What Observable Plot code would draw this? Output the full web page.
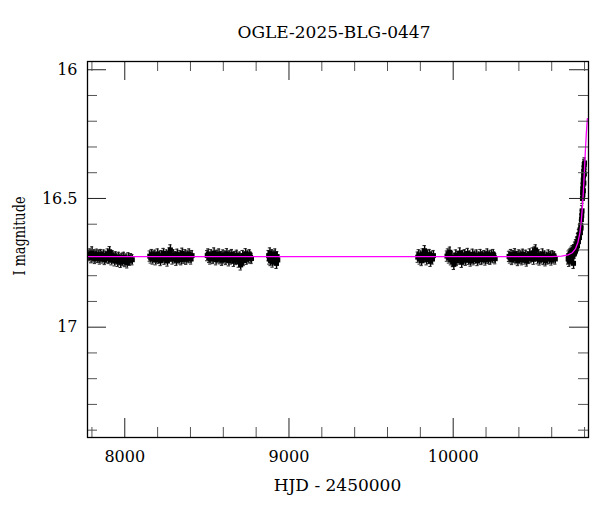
<!DOCTYPE html>
<html>
<head>
<meta charset="utf-8">
<script src="https://cdn.jsdelivr.net/npm/d3@7"></script>
<script src="https://cdn.jsdelivr.net/npm/@observablehq/plot@0.6"></script>
<style>
  html, body { margin: 0; padding: 0; background: #fff; }
  #chart svg { display: block; }
</style>
</head>
<body>
<div id="chart"></div>
<script>
// ---- Texts ----
const titleText = "OGLE-2025-BLG-0447";
const xLabelText = "HJD - 2450000";
const yLabelText = "I magnitude";

// ---- Axis ticks ----
const xMajorTicks = [8000, 9000, 10000];
const xMinorTicks = [7800, 8200, 8400, 8600, 8800, 9200, 9400, 9600, 9800, 10200, 10400, 10600, 10800];
const yMajorTicks = [16, 16.5, 17];
const yMinorTicks = [16.1, 16.2, 16.3, 16.4, 16.6, 16.7, 16.8, 16.9, 17.1, 17.2, 17.3, 17.4];
const xDomain = [7773, 10824];
const yDomain = [15.968, 17.4285];

// ---- Photometry (HJD-2450000, I mag) ----
const season2017 = [
  [7782,16.722],[7788,16.716],[7795,16.730],[7801,16.708],[7806,16.727],[7812,16.719],[7818,16.733],
  [7823,16.724],[7829,16.717],[7836,16.729],[7842,16.721],[7848,16.735],[7853,16.718],[7859,16.726],
  [7866,16.731],[7871,16.720],[7878,16.737],[7884,16.725],[7890,16.729],[7896,16.716],[7902,16.733],
  [7908,16.707],[7913,16.728],[7919,16.738],[7926,16.723],[7932,16.731],[7938,16.742],[7944,16.727],
  [7950,16.735],[7957,16.744],[7963,16.729],[7969,16.738],[7975,16.748],[7982,16.733],[7988,16.741],
  [7994,16.729],[8001,16.745],[8008,16.736],[8015,16.750],[8022,16.731],[8030,16.740],[8038,16.734],[8046,16.738]
];
const season2018 = [
  [8152,16.724],[8158,16.731],[8164,16.718],[8170,16.735],[8176,16.726],[8182,16.721],[8188,16.738],
  [8194,16.729],[8200,16.716],[8206,16.733],[8212,16.725],[8218,16.741],[8224,16.722],[8230,16.730],
  [8236,16.714],[8242,16.736],[8248,16.727],[8254,16.720],[8260,16.743],[8266,16.729],[8272,16.712],
  [8278,16.700],[8284,16.724],[8290,16.735],[8296,16.719],[8302,16.731],[8308,16.726],[8314,16.740],
  [8320,16.717],[8326,16.729],[8332,16.734],[8338,16.722],[8344,16.738],[8350,16.713],[8356,16.727],
  [8362,16.732],[8368,16.719],[8374,16.736],[8380,16.724],[8386,16.730],[8392,16.716],[8398,16.728],
  [8404,16.735],[8410,16.722]
];
const season2019 = [
  [8502,16.722],[8508,16.716],[8514,16.729],[8520,16.735],[8526,16.719],[8532,16.727],[8538,16.733],
  [8544,16.712],[8550,16.725],[8556,16.738],[8562,16.721],[8568,16.730],[8574,16.716],[8580,16.734],
  [8586,16.726],[8592,16.740],[8598,16.720],[8604,16.731],[8610,16.724],[8616,16.737],[8622,16.715],
  [8628,16.729],[8634,16.742],[8640,16.723],[8646,16.735],[8652,16.718],[8658,16.731],[8664,16.744],
  [8670,16.726],[8676,16.737],[8682,16.721],[8688,16.733],[8694,16.747],[8700,16.728],[8706,16.758],
  [8712,16.735],[8718,16.722],[8724,16.741],[8730,16.729],[8736,16.715],[8742,16.736],[8748,16.724],
  [8754,16.731],[8760,16.719],[8766,16.728],[8772,16.733]
];
const season2020 = [
  [8876,16.722],[8880,16.735],[8884,16.712],[8888,16.741],[8892,16.728],[8896,16.719],[8900,16.747],
  [8904,16.731],[8908,16.724],[8912,16.738],[8916,16.716],[8920,16.733],[8924,16.752],[8928,16.726],[8932,16.739]
];
const season2022 = [
  [9784,16.728],[9790,16.719],[9796,16.735],[9802,16.724],[9808,16.741],[9814,16.716],[9820,16.730],
  [9826,16.703],[9832,16.726],[9838,16.738],[9844,16.721],[9850,16.733],[9856,16.718],[9862,16.744],
  [9868,16.727],[9874,16.735],[9880,16.722]
];
const season2023 = [
  [9962,16.724],[9968,16.716],[9974,16.731],[9980,16.709],[9986,16.738],[9992,16.727],[9998,16.745],
  [10004,16.756],[10010,16.733],[10016,16.720],[10022,16.741],[10028,16.726],[10034,16.735],[10040,16.712],
  [10046,16.729],[10052,16.748],[10058,16.722],[10064,16.734],[10070,16.719],[10076,16.740],[10082,16.727],
  [10088,16.714],[10094,16.736],[10100,16.724],[10106,16.743],[10112,16.731],[10118,16.717],[10124,16.738],
  [10130,16.725],[10136,16.732],[10142,16.720],[10148,16.741],[10154,16.728],[10160,16.734],[10166,16.718],
  [10172,16.737],[10178,16.726],[10184,16.731],[10190,16.722],[10196,16.739],[10202,16.727],[10208,16.716],
  [10214,16.733],[10220,16.724],[10226,16.736],[10232,16.721],[10238,16.730],[10244,16.718],[10250,16.728],[10256,16.734]
];
const season2024 = [
  [10340,16.725],[10346,16.731],[10352,16.718],[10358,16.737],[10364,16.722],[10370,16.729],[10376,16.715],
  [10382,16.734],[10388,16.726],[10394,16.741],[10400,16.720],[10406,16.732],[10412,16.724],[10418,16.738],
  [10424,16.717],[10430,16.729],[10436,16.735],[10442,16.721],[10448,16.743],[10454,16.727],[10460,16.733],
  [10466,16.716],[10472,16.730],[10478,16.725],[10484,16.712],[10490,16.736],[10496,16.708],[10502,16.700],
  [10508,16.722],[10514,16.734],[10520,16.719],[10526,16.739],[10532,16.727],[10538,16.731],[10544,16.716],
  [10550,16.737],[10556,16.724],[10562,16.742],[10568,16.729],[10574,16.735],[10580,16.720],[10586,16.733],
  [10592,16.726],[10598,16.739],[10604,16.723],[10610,16.731],[10616,16.727],[10622,16.735]
];
const season2025 = [
  [10700,16.735],[10703,16.724],[10706,16.744],[10709,16.719],[10712,16.731],[10715,16.714],[10718,16.738],
  [10721,16.709],[10724,16.727],[10727,16.703],[10730,16.719],[10733,16.752],[10736,16.699],[10739,16.713],
  [10742,16.689],[10745,16.704],[10748,16.680],[10751,16.695],[10754,16.670],[10757,16.684],[10760,16.656],
  [10763,16.668],[10766,16.640],[10769,16.652],[10772,16.622],[10775,16.633],[10777,16.604],[10779,16.615],
  [10781,16.582],[10783,16.566],[10785,16.548],[10787,16.500],[10788,16.478],[10789,16.462],[10790,16.486],
  [10791,16.445],[10792,16.428],[10793,16.470],[10794,16.412],[10795,16.395],[10796,16.440],[10797,16.381],
  [10798,16.368],[10799,16.405],[10800,16.362]
];
const magError = 0.02;    // typical error bar half-length (mag)
const capHalfWidth = 10;  // error-bar cap half-width (days)

// ---- Model curve (magenta) ----
const modelCurve = [
  [7773,16.726],[10600,16.726],[10660,16.724],[10700,16.719],[10725,16.711],[10745,16.695],
  [10760,16.670],[10772,16.632],[10780,16.588],[10787,16.532],[10793,16.470],[10799,16.395],
  [10805,16.315],[10811,16.245],[10817,16.190]
];

const points = [season2017, season2018, season2019, season2020, season2022, season2023, season2024, season2025]
  .flat().map(([hjd, mag]) => ({hjd, mag, err: magError}));
const model = modelCurve.map(([hjd, mag]) => ({hjd, mag}));

const W = 600, H = 512;
const mL = 87, mR = 12, mT = 61, mB = 75;
const frameW = W - mL - mR, frameH = H - mT - mB;
const majorLen = 19, minorLen = 10;

const plot = Plot.plot({
  width: W, height: H,
  marginLeft: mL, marginRight: mR, marginTop: mT, marginBottom: mB,
  style: {fontFamily: "DejaVu Serif", fontSize: "16px", background: "#fff", color: "#000"},
  x: {domain: xDomain, axis: null},
  y: {domain: yDomain, reverse: true, axis: null},
  marks: [
    // error bars
    Plot.ruleX(points, {x: "hjd", y1: d => d.mag - d.err, y2: d => d.mag + d.err, stroke: "#000", strokeWidth: 1.4, clip: true}),
    Plot.ruleY(points, {y: d => d.mag - d.err, x1: d => d.hjd - capHalfWidth, x2: d => d.hjd + capHalfWidth, stroke: "#222", strokeWidth: 1, clip: true}),
    Plot.ruleY(points, {y: d => d.mag + d.err, x1: d => d.hjd - capHalfWidth, x2: d => d.hjd + capHalfWidth, stroke: "#222", strokeWidth: 1, clip: true}),
    // points
    Plot.dot(points, {x: "hjd", y: "mag", r: 2.8, symbol: "square", fill: "#000", stroke: "none", clip: true}),
    // model
    Plot.line(model, {x: "hjd", y: "mag", stroke: "#ff00ff", strokeWidth: 1.3, clip: true}),
    // inward ticks: left, right
    Plot.tickY(yMajorTicks, {y: d => d, insetRight: frameW - majorLen, stroke: "#222"}),
    Plot.tickY(yMinorTicks, {y: d => d, insetRight: frameW - minorLen, stroke: "#555"}),
    Plot.tickY(yMajorTicks, {y: d => d, insetLeft: frameW - majorLen, stroke: "#222"}),
    Plot.tickY(yMinorTicks, {y: d => d, insetLeft: frameW - minorLen, stroke: "#555"}),
    // inward ticks: bottom, top
    Plot.tickX(xMajorTicks, {x: d => d, insetTop: frameH - majorLen, stroke: "#222"}),
    Plot.tickX(xMinorTicks, {x: d => d, insetTop: frameH - minorLen, stroke: "#555"}),
    Plot.tickX(xMajorTicks, {x: d => d, insetBottom: frameH - majorLen, stroke: "#222"}),
    Plot.tickX(xMinorTicks, {x: d => d, insetBottom: frameH - minorLen, stroke: "#555"}),
    // tick labels
    Plot.text(yMajorTicks, {y: d => d, text: d => String(d), frameAnchor: "left", textAnchor: "end", dx: -10, fontSize: 16, fill: "#000"}),
    Plot.text(xMajorTicks, {x: d => d, text: d => String(d), frameAnchor: "bottom", lineAnchor: "top", dy: 13, fontSize: 16, fill: "#000"}),
    Plot.frame({stroke: "#000", strokeWidth: 1.3})
  ]
});

const svg = d3.select(plot);
svg.append("text")
  .attr("x", 334).attr("y", 38)
  .attr("text-anchor", "middle")
  .attr("font-family", "DejaVu Serif").attr("font-size", 17)
  .attr("fill", "#000")
  .text(titleText);
svg.append("text")
  .attr("x", 337.5).attr("y", 491)
  .attr("text-anchor", "middle")
  .attr("font-family", "DejaVu Serif").attr("font-size", 17)
  .attr("fill", "#000")
  .text(xLabelText);
svg.append("text")
  .attr("transform", "translate(25,236) rotate(-90)")
  .attr("text-anchor", "middle")
  .attr("font-family", "DejaVu Serif").attr("font-size", 16)
  .attr("textLength", 79).attr("lengthAdjust", "spacingAndGlyphs")
  .attr("fill", "#000")
  .text(yLabelText);

document.getElementById("chart").appendChild(plot);
</script>
</body>
</html>
